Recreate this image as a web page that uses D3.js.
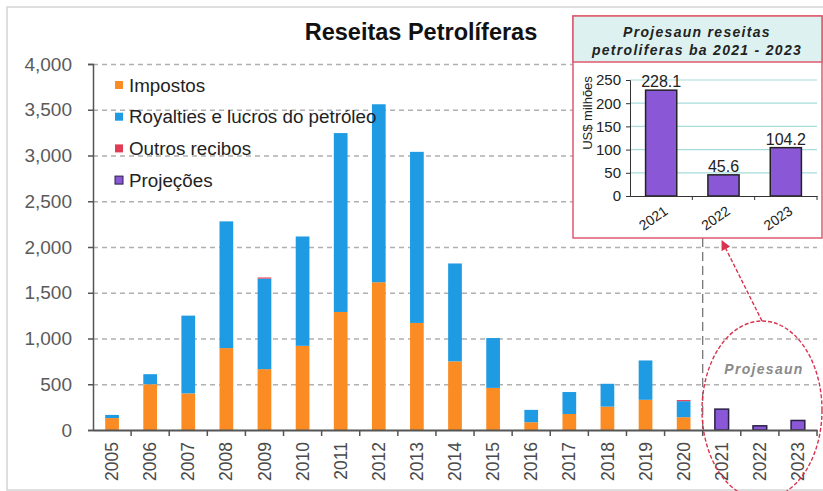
<!DOCTYPE html>
<html>
<head>
<meta charset="utf-8">
<script src="https://cdn.jsdelivr.net/npm/d3@7"></script>
<style>
  body { margin: 0; background: #fff; }
  svg { font-family: 'Liberation Sans', Arial, sans-serif; }
  .grid line { stroke: #b0b0b0; stroke-dasharray: 5,4; stroke-width: 1.4; }
  .grid path { display: none; }
</style>
</head>
<body>
<svg id="chart" width="823" height="491"></svg>
<script>
// dados
const anos = ['2005', '2006', '2007', '2008', '2009', '2010', '2011', '2012',
  '2013', '2014', '2015', '2016', '2017', '2018', '2019', '2020'];
const impostos = [130, 500, 400, 895, 665, 920, 1290, 1615, 1170, 750, 460, 85, 175, 255, 330, 140];
const royalties = [35, 110, 850, 1385, 990, 1195, 1955, 1945, 1870, 1070, 545, 135, 240, 250, 430, 175];
const outros = [0, 0, 0, 0, 12, 0, 0, 0, 0, 0, 0, 0, 0, 0, 0, 12];
const anosProj = ['2021', '2022', '2023'];
const projecoes = [228.1, 45.6, 104.2];
const yTicks = [0, 500, 1000, 1500, 2000, 2500, 3000, 3500, 4000];
const insetTicks = [0, 50, 100, 150, 200, 250];
const legenda = ['Impostos', 'Royalties e lucros do petróleo', 'Outros recibos', 'Projeções'];

const cores = ['#FB8C23', '#1E9BE3', '#E23B55', '#8A58D6'];

const svg = d3.select('#chart');

// moldura
svg.append('rect')
  .attr('x', 7).attr('y', 7)
  .attr('width', 830).attr('height', 483)
  .attr('fill', '#fff')
  .attr('stroke', '#d4d4d4')
  .attr('stroke-width', 1.5);

const mLeft = 93, mRight = 817, mTop = 64, mBottom = 430;
const todosAnos = anos.concat(anosProj);

const xScale = d3.scaleBand()
  .range([mLeft, mRight])
  .domain(todosAnos)
  .paddingInner(0.64)
  .paddingOuter(0.32);

const yScale = d3.scaleLinear()
  .range([mBottom, mTop])
  .domain([0, 4000]);

// grelha
svg.append('g')
  .attr('class', 'grid')
  .attr('transform', `translate(${mLeft}, 0)`)
  .call(d3.axisLeft(yScale).tickValues(yTicks.slice(1)).tickSize(-(mRight - mLeft)).tickFormat(''));

// eixo y
const yAxis = svg.append('g')
  .attr('transform', `translate(${mLeft}, 0)`)
  .call(d3.axisLeft(yScale).tickValues(yTicks).tickSize(5).tickPadding(16).tickFormat(d3.format(',')));
yAxis.select('.domain').attr('stroke', '#555').attr('stroke-width', 1.5);
yAxis.selectAll('.tick line').attr('stroke', '#555').attr('stroke-width', 1.5);
yAxis.selectAll('text')
  .attr('fill', '#5a5a5a')
  .style('font-size', '19px');

// barras empilhadas
const tabela = anos.map((a, i) => ({ ano: a, impostos: impostos[i], royalties: royalties[i], outros: outros[i] }));
const stack = d3.stack().keys(['impostos', 'royalties', 'outros'])(tabela);

svg.append('g')
  .selectAll('g')
  .data(stack)
  .enter()
  .append('g')
  .attr('fill', (d, i) => cores[i])
  .selectAll('rect')
  .data((d) => d)
  .enter()
  .append('rect')
  .attr('x', (d) => xScale(d.data.ano))
  .attr('y', (d) => yScale(d[1]))
  .attr('height', (d) => yScale(d[0]) - yScale(d[1]))
  .attr('width', xScale.bandwidth());

// projeções no gráfico principal
svg.append('g')
  .selectAll('rect')
  .data(projecoes)
  .enter()
  .append('rect')
  .attr('x', (d, i) => xScale(anosProj[i]))
  .attr('y', (d) => yScale(d))
  .attr('height', (d) => yScale(0) - yScale(d))
  .attr('width', xScale.bandwidth())
  .attr('fill', cores[3])
  .attr('stroke', '#2b1f45')
  .attr('stroke-width', 1.5);

// eixo x
const xAxis = svg.append('g')
  .attr('transform', `translate(0, ${mBottom})`)
  .call(d3.axisBottom(xScale).tickSize(0).tickPadding(0));
xAxis.select('.domain').attr('stroke', '#555').attr('stroke-width', 2);
xAxis.selectAll('text')
  .attr('transform', 'rotate(-90)')
  .attr('text-anchor', 'end')
  .attr('x', -12)
  .attr('y', 0)
  .attr('dy', '0.35em')
  .attr('fill', '#4a4a4a')
  .style('font-size', '17.5px');
svg.append('g')
  .selectAll('line')
  .data(todosAnos)
  .enter()
  .append('line')
  .attr('x1', (d, i) => xScale.step() * (i + 1) + mLeft)
  .attr('x2', (d, i) => xScale.step() * (i + 1) + mLeft)
  .attr('y1', mBottom)
  .attr('y2', mBottom + 6)
  .attr('stroke', '#555')
  .attr('stroke-width', 1.5);

// título
svg.append('text')
  .attr('x', 421)
  .attr('y', 40)
  .attr('text-anchor', 'middle')
  .style('font-size', '23.5px')
  .style('font-weight', 'bold')
  .attr('fill', '#111')
  .text('Reseitas Petrolíferas');

// legenda
const leg = svg.append('g')
  .selectAll('g')
  .data(legenda)
  .enter()
  .append('g')
  .attr('transform', (d, i) => `translate(115, ${85 + i * 31.7})`);
leg.append('rect')
  .attr('x', 0).attr('y', -4)
  .attr('width', 8).attr('height', 8)
  .attr('fill', (d, i) => cores[i])
  .attr('stroke', (d, i) => (i === 3 ? '#2b1f45' : 'none'))
  .attr('stroke-width', 1);
leg.append('text')
  .attr('x', 14)
  .attr('dy', '0.36em')
  .style('font-size', '18.8px')
  .attr('fill', '#222')
  .text((d) => d);

// linha divisória
const xDiv = xScale('2021') - (xScale.step() - xScale.bandwidth()) / 2;
svg.append('line')
  .attr('x1', xDiv).attr('x2', xDiv)
  .attr('y1', 238).attr('y2', mBottom)
  .attr('stroke', '#777')
  .attr('stroke-width', 1.3)
  .attr('stroke-dasharray', '9,5');

// elipse e seta
svg.append('ellipse')
  .attr('cx', 762).attr('cy', 410)
  .attr('rx', 60).attr('ry', 89)
  .attr('fill', 'none')
  .attr('stroke', '#D8334F')
  .attr('stroke-width', 1.4)
  .attr('stroke-dasharray', '4,2');
svg.append('defs').append('marker')
  .attr('id', 'seta')
  .attr('viewBox', '0 0 10 10')
  .attr('refX', 9).attr('refY', 5)
  .attr('markerWidth', 7).attr('markerHeight', 7)
  .attr('orient', 'auto')
  .append('path')
  .attr('d', 'M0,0 L10,5 L0,10 z')
  .attr('fill', '#D8334F');
svg.append('line')
  .attr('x1', 762).attr('y1', 321)
  .attr('x2', 722).attr('y2', 241)
  .attr('stroke', '#D8334F')
  .attr('stroke-width', 1.4)
  .attr('stroke-dasharray', '4,2')
  .attr('marker-end', 'url(#seta)');
svg.append('text')
  .attr('x', 764).attr('y', 374)
  .attr('text-anchor', 'middle')
  .style('font-size', '14px')
  .style('font-weight', 'bold')
  .style('font-style', 'italic')
  .style('letter-spacing', '1.3px')
  .attr('fill', '#8a8a8a')
  .text('Projesaun');

// caixa inserida
const inset = svg.append('g');
inset.append('rect')
  .attr('x', 573).attr('y', 16)
  .attr('width', 249).attr('height', 222)
  .attr('fill', '#fff')
  .attr('stroke', '#DE5A70')
  .attr('stroke-width', 1.5);
inset.append('rect')
  .attr('x', 573).attr('y', 16)
  .attr('width', 249).attr('height', 46)
  .attr('fill', '#DDF2F0')
  .attr('stroke', '#DE5A70')
  .attr('stroke-width', 1.5);
inset.append('text')
  .attr('x', 697).attr('y', 37)
  .attr('text-anchor', 'middle')
  .style('font-size', '14px')
  .style('font-weight', 'bold')
  .style('font-style', 'italic')
  .style('letter-spacing', '1.3px')
  .attr('fill', '#222')
  .text('Projesaun reseitas');
inset.append('text')
  .attr('x', 697).attr('y', 55)
  .attr('text-anchor', 'middle')
  .style('font-size', '14px')
  .style('font-weight', 'bold')
  .style('font-style', 'italic')
  .style('letter-spacing', '1.3px')
  .attr('fill', '#222')
  .text('petroliferas ba 2021 - 2023');

const ixScale = d3.scaleBand()
  .range([630, 817])
  .domain(anosProj)
  .paddingInner(0.5)
  .paddingOuter(0.25);
const iyScale = d3.scaleLinear()
  .range([196, 80])
  .domain([0, 250]);

inset.append('g')
  .selectAll('line')
  .data(insetTicks.slice(1))
  .enter()
  .append('line')
  .attr('x1', 630).attr('x2', 817)
  .attr('y1', (d) => iyScale(d)).attr('y2', (d) => iyScale(d))
  .attr('stroke', '#A9DCDC')
  .attr('stroke-width', 1.2);

const iyAxis = inset.append('g')
  .attr('transform', 'translate(630, 0)')
  .call(d3.axisLeft(iyScale).tickValues(insetTicks).tickSize(4).tickPadding(5));
iyAxis.select('.domain').attr('stroke', '#333');
iyAxis.selectAll('.tick line').attr('stroke', '#333');
iyAxis.selectAll('text').style('font-size', '15px').attr('fill', '#222');

inset.selectAll('.ibar')
  .data(projecoes)
  .enter()
  .append('rect')
  .attr('class', 'ibar')
  .attr('x', (d, i) => ixScale(anosProj[i]))
  .attr('y', (d) => iyScale(d))
  .attr('width', ixScale.bandwidth())
  .attr('height', (d) => iyScale(0) - iyScale(d))
  .attr('fill', cores[3])
  .attr('stroke', '#222')
  .attr('stroke-width', 1.5);

inset.selectAll('.ival')
  .data(projecoes)
  .enter()
  .append('text')
  .attr('class', 'ival')
  .attr('x', (d, i) => ixScale(anosProj[i]) + ixScale.bandwidth() / 2)
  .attr('y', (d) => iyScale(d) - 3)
  .attr('text-anchor', 'middle')
  .style('font-size', '16px')
  .attr('fill', '#222')
  .text((d) => d.toFixed(1));

const ixAxis = inset.append('g')
  .attr('transform', `translate(0, ${iyScale(0)})`)
  .call(d3.axisBottom(ixScale).tickSize(0).tickPadding(0));
ixAxis.select('.domain').attr('stroke', '#333').attr('stroke-width', 1.2);
ixAxis.selectAll('text')
  .attr('transform', 'translate(2, 9) rotate(-35)')
  .attr('text-anchor', 'end')
  .attr('x', 0)
  .attr('y', 0)
  .attr('dy', '0.71em')
  .style('font-size', '14px')
  .attr('fill', '#222');
inset.append('g')
  .selectAll('line')
  .data([1, 2, 3])
  .enter()
  .append('line')
  .attr('x1', (d) => 630 + ixScale.step() * d)
  .attr('x2', (d) => 630 + ixScale.step() * d)
  .attr('y1', iyScale(0)).attr('y2', iyScale(0) + 4)
  .attr('stroke', '#333');

inset.append('text')
  .attr('transform', 'translate(592, 113) rotate(-90)')
  .attr('text-anchor', 'middle')
  .style('font-size', '13px')
  .attr('fill', '#222')
  .text('US$ milhões');
</script>
</body>
</html>
